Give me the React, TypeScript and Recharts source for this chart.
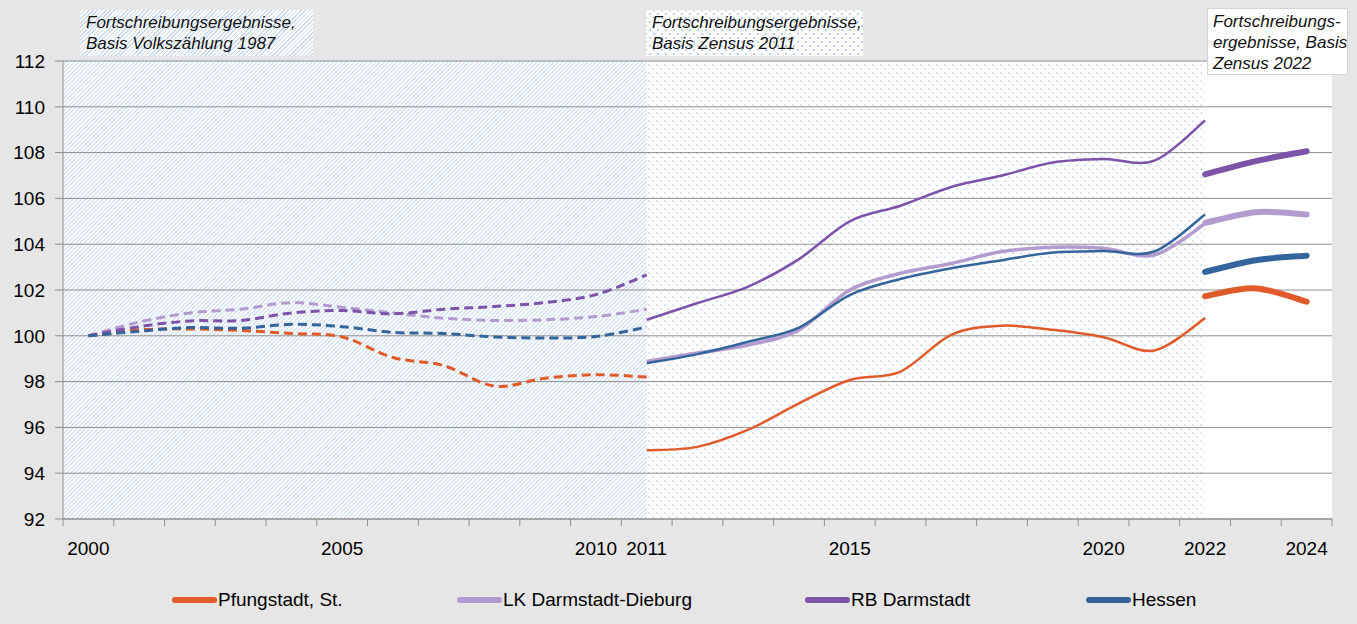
import { LineChart, Line, XAxis, YAxis, CartesianGrid, ReferenceArea } from "recharts";

// categories: one band per year
const YEARS = [
  2000, 2001, 2002, 2003, 2004, 2005, 2006, 2007, 2008, 2009, 2010, 2011, 2012,
  2013, 2014, 2015, 2016, 2017, 2018, 2019, 2020, 2021, 2022, 2023, 2024,
];
const LABEL_YEARS = [2000, 2005, 2010, 2011, 2015, 2020, 2022, 2024];
const Y_TICKS = [92, 94, 96, 98, 100, 102, 104, 106, 108, 110, 112];

// Basis Volkszählung 1987 (2000–2011)
const pfungstadt87 = [100, 100.26, 100.3, 100.23, 100.1, 99.95, 99.05, 98.7, 97.8, 98.15, 98.3, 98.2];
const lk87 = [100, 100.6, 101.0, 101.16, 101.45, 101.24, 101.0, 100.77, 100.67, 100.7, 100.84, 101.16];
const rb87 = [100, 100.4, 100.65, 100.67, 101.0, 101.1, 100.96, 101.16, 101.28, 101.45, 101.8, 102.66];
const hessen87 = [100, 100.2, 100.36, 100.33, 100.5, 100.4, 100.15, 100.1, 99.95, 99.9, 99.97, 100.38];

// Basis Zensus 2011 (2011–2022)
const pfungstadt11 = [95.0, 95.15, 95.9, 97.05, 98.07, 98.44, 100.04, 100.44, 100.26, 99.94, 99.36, 100.77];
const lk11 = [98.88, 99.25, 99.6, 100.26, 102.0, 102.73, 103.16, 103.68, 103.87, 103.82, 103.53, 104.9];
const rb11 = [100.7, 101.43, 102.15, 103.35, 105.0, 105.68, 106.5, 107.0, 107.57, 107.72, 107.65, 109.4];
const hessen11 = [98.8, 99.2, 99.74, 100.36, 101.78, 102.48, 102.95, 103.3, 103.64, 103.7, 103.68, 105.3];

// Basis Zensus 2022 (2022–2024)
const pfungstadt22 = [101.73, 102.07, 101.49];
const lk22 = [104.93, 105.4, 105.3];
const rb22 = [107.05, 107.63, 108.06];
const hessen22 = [102.79, 103.3, 103.5];

const SERIES = [
  { key: "pf", name: "Pfungstadt, St.", color: "#e15a2a", thin: 2.5, s87: pfungstadt87, s11: pfungstadt11, s22: pfungstadt22 },
  { key: "lk", name: "LK Darmstadt-Dieburg", color: "#b39bcf", thin: 3.5, s87: lk87, s11: lk11, s22: lk22 },
  { key: "rb", name: "RB Darmstadt", color: "#7d52a9", thin: 2.5, s87: rb87, s11: rb11, s22: rb22 },
  { key: "he", name: "Hessen", color: "#33649b", thin: 2.5, s87: hessen87, s11: hessen11, s22: hessen22 },
];
const LEGEND_X = [172, 457, 805, 1086];

const data = YEARS.map((year, i) => {
  const row: Record<string, number | undefined> = { year };
  SERIES.forEach((s) => {
    row[s.key + "87"] = i <= 11 ? s.s87[i] : undefined;
    row[s.key + "11"] = i >= 11 && i <= 22 ? s.s11[i - 11] : undefined;
    row[s.key + "22"] = i >= 22 ? s.s22[i - 22] : undefined;
  });
  return row;
});

const FONT = '"Liberation Sans", Arial, sans-serif';
const W = 1357;
const H = 624;
const M = { top: 61, right: 25, bottom: 65, left: 0 };
const Y_AXIS_W = 63;
const BAND = (W - M.right - Y_AXIS_W) / YEARS.length;

// Excel-like smoothed line (Catmull-Rom through the points)
function excelSmooth(context: any) {
  let pts: number[][] = [];
  return {
    areaStart() {},
    areaEnd() {},
    lineStart() {
      pts = [];
    },
    lineEnd() {
      if (!pts.length) return;
      context.moveTo(pts[0][0], pts[0][1]);
      for (let i = 0; i < pts.length - 1; i++) {
        const p0 = pts[i > 0 ? i - 1 : i];
        const p1 = pts[i];
        const p2 = pts[i + 1];
        const p3 = pts[i + 2 < pts.length ? i + 2 : i + 1];
        context.bezierCurveTo(
          p1[0] + (p2[0] - p0[0]) / 6,
          p1[1] + (p2[1] - p0[1]) / 6,
          p2[0] - (p3[0] - p1[0]) / 6,
          p2[1] - (p3[1] - p1[1]) / 6,
          p2[0],
          p2[1]
        );
      }
    },
    point(x: number, y: number) {
      pts.push([+x, +y]);
    },
  };
}

const boundaries = [1999.5, ...YEARS.map((y) => y + 0.5)];

function YearTick(props: any) {
  const { x, y, payload } = props;
  const year = Math.round(payload.value + 0.5);
  if (!LABEL_YEARS.includes(year)) return null;
  return (
    <text x={x + BAND / 2} y={y} dy="0.71em" textAnchor="middle" fill="#000" fontSize={19} fontFamily={FONT}>
      {year}
    </text>
  );
}

const hatchCss = "repeating-linear-gradient(135deg, #cadbf1 0px, #cadbf1 1.1px, #ffffff 1.1px, #ffffff 3px)";
const dotsCss =
  "radial-gradient(circle, #bdd0ec 0.9px, transparent 1.2px) 0 0 / 8px 8px, radial-gradient(circle, #bdd0ec 0.9px, transparent 1.2px) 4px 4px / 8px 8px, #ffffff";

const noteStyle: React.CSSProperties = {
  position: "absolute",
  fontFamily: FONT,
  fontStyle: "italic",
  fontSize: 17,
  lineHeight: "21px",
  color: "#111",
  boxSizing: "border-box",
  whiteSpace: "nowrap",
};

export default function App() {
  return (
    <div style={{ position: "absolute", left: 0, top: 0, width: W, height: H, background: "#e6e6e6", overflow: "hidden" }}>
      <LineChart width={W} height={H} data={data} margin={M}>
        <defs>
          <pattern id="hatch" width="3" height="3" patternUnits="userSpaceOnUse" patternTransform="rotate(45)">
            <rect x="0" y="0" width="1.1" height="3" fill="#cadbf1" />
          </pattern>
          <pattern id="dots" width="8" height="8" patternUnits="userSpaceOnUse">
            <rect x="0.5" y="0.5" width="1.6" height="1.6" fill="#bdd0ec" />
            <rect x="4.5" y="4.5" width="1.6" height="1.6" fill="#bdd0ec" />
          </pattern>
        </defs>
        <ReferenceArea x1={1999.5} x2={2024.5} y1={92} y2={112} fill="#ffffff" fillOpacity={1} stroke="none" zIndex={-300} />
        <ReferenceArea x1={1999.5} x2={2011} y1={92} y2={112} fill="url(#hatch)" fillOpacity={1} stroke="none" zIndex={-200} />
        <ReferenceArea x1={2011} x2={2022} y1={92} y2={112} fill="url(#dots)" fillOpacity={1} stroke="none" zIndex={-200} />
        <CartesianGrid vertical={false} stroke="#8e8e8e" fill="none" />
        <XAxis
          dataKey="year"
          type="number"
          domain={[1999.5, 2024.5]}
          ticks={boundaries}
          interval={0}
          height={40}
          tickSize={7}
          tickMargin={16}
          stroke="#8e8e8e"
          tick={<YearTick />}
        />
        <YAxis
          domain={[92, 112]}
          ticks={Y_TICKS}
          interval={0}
          width={Y_AXIS_W}
          tickSize={8}
          tickMargin={10}
          stroke="#8e8e8e"
          tick={{ fill: "#000", fontSize: 19, fontFamily: FONT }}
        />
        {SERIES.map((s) => (
          <Line
            key={s.key + "87"}
            dataKey={s.key + "87"}
            type={excelSmooth as any}
            stroke={s.color}
            strokeWidth={3}
            strokeDasharray="9 5"
            dot={false}
            activeDot={false}
            isAnimationActive={false}
          />
        ))}
        {SERIES.map((s) => (
          <Line
            key={s.key + "11"}
            dataKey={s.key + "11"}
            type={excelSmooth as any}
            stroke={s.color}
            strokeWidth={s.thin}
            dot={false}
            activeDot={false}
            isAnimationActive={false}
          />
        ))}
        {SERIES.map((s) => (
          <Line
            key={s.key + "22"}
            dataKey={s.key + "22"}
            type={excelSmooth as any}
            stroke={s.color}
            strokeWidth={6}
            strokeLinecap="round"
            dot={false}
            activeDot={false}
            isAnimationActive={false}
          />
        ))}
      </LineChart>

      <div style={{ ...noteStyle, left: 80, top: 10, width: 233, height: 46, padding: "2px 6px", background: hatchCss }}>
        Fortschreibungsergebnisse,
        <br />
        Basis Volkszählung 1987
      </div>
      <div style={{ ...noteStyle, left: 646, top: 10, width: 217, height: 46, padding: "2px 6px", background: dotsCss }}>
        Fortschreibungsergebnisse,
        <br />
        Basis Zensus 2011
      </div>
      <div
        style={{
          ...noteStyle,
          left: 1207,
          top: 8,
          width: 141,
          height: 67,
          padding: "2px 5px",
          background: "#ffffff",
          border: "1px solid #d4d4d4",
        }}
      >
        Fortschreibungs-
        <br />
        ergebnisse, Basis
        <br />
        Zensus 2022
      </div>

      {SERIES.map((s, i) => (
        <div
          key={s.key}
          style={{
            position: "absolute",
            left: LEGEND_X[i],
            top: 588,
            height: 24,
            display: "flex",
            alignItems: "center",
            fontFamily: FONT,
            fontSize: 19,
            color: "#000",
            whiteSpace: "nowrap",
          }}
        >
          <span style={{ display: "inline-block", width: 45, height: 6, borderRadius: 3, background: s.color, marginRight: 1 }} />
          {s.name}
        </div>
      ))}
    </div>
  );
}
